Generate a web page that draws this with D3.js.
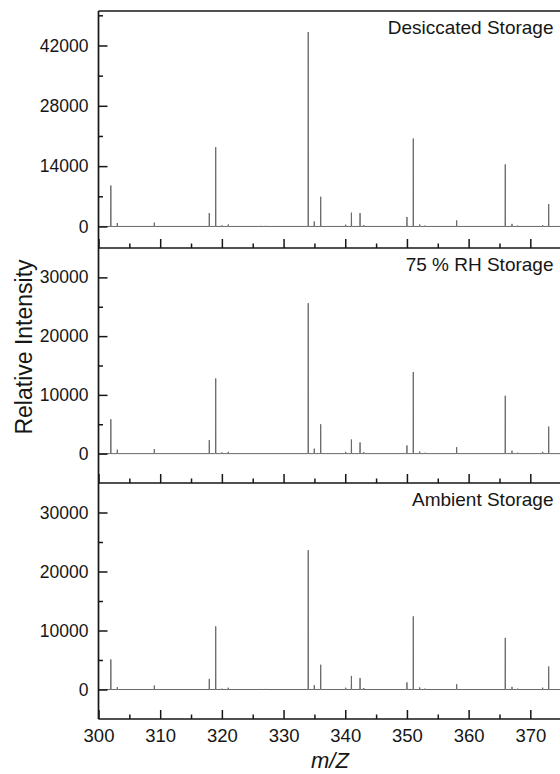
<!DOCTYPE html>
<html>
<head>
<meta charset="utf-8">
<script src="https://cdn.jsdelivr.net/npm/d3@7"></script>
<style>
  html, body { margin: 0; padding: 0; background: #fff; }
  svg { display: block; font-family: "Liberation Sans", Arial, sans-serif; }
</style>
</head>
<body>
<svg id="chart" width="560" height="774"></svg>
<script>
// Peak positions (m/z) shared by the three stored samples
const mzPeaks = [302.0, 303.05, 309.05, 317.96, 319.0, 320.0, 321.04, 326.3, 327.1,
                 334.0, 334.98, 336.02, 340.07, 341.0, 342.4, 343.0, 350.0, 351.03,
                 352.07, 352.93, 358.06, 365.94, 367.03, 367.95, 372.0, 372.98];

// Relative intensity of each peak, one array per storage condition
const desiccated = [9500, 800, 900, 3100, 18400, 250, 450, 150, 150,
                    45100, 1150, 6900, 400, 3200, 3100, 300, 2200, 20400,
                    450, 200, 1400, 14400, 600, 200, 300, 5200];
const rh75 = [5850, 680, 780, 2300, 12800, 200, 300, 100, 100,
              25600, 850, 5000, 300, 2400, 1900, 250, 1400, 13900,
              350, 150, 1100, 9850, 500, 150, 300, 4600];
const ambient = [5100, 400, 670, 1800, 10700, 150, 300, 100, 100,
                 23600, 730, 4200, 300, 2300, 1950, 250, 1200, 12400,
                 350, 150, 900, 8750, 450, 150, 300, 3900];

const panelNames = ["Desiccated Storage", "75 % RH Storage", "Ambient Storage"];
const panelSeries = [desiccated, rh75, ambient];
const yDomains = [[-5000, 50000], [-5000, 35000], [-5000, 35000]];
const yMajorTicks = [[0, 14000, 28000, 42000], [0, 10000, 20000, 30000], [0, 10000, 20000, 30000]];
const yMinorTicks = [[7000, 21000, 35000, 49000], [5000, 15000, 25000], [5000, 15000, 25000]];
const xMajorTicks = [300, 310, 320, 330, 340, 350, 360, 370];
const xMinorTicks = [305, 315, 325, 335, 345, 355, 365, 375];

const svg = d3.select("#chart");
const left = 98.5, right = 592;
const panelBounds = [[11, 248], [248, 483], [483, 719]];
const ink = "#161616";

const x = d3.scaleLinear().domain([300, 380]).range([left, right]);

panelSeries.forEach((series, i) => {
  const [top, bottom] = panelBounds[i];
  const y = d3.scaleLinear().domain(yDomains[i]).range([bottom, top]);
  const g = svg.append("g");

  // spectrum: flat baseline with a narrow spike at each peak
  const pts = [[300, 0]];
  mzPeaks.forEach((m, k) => {
    pts.push([m - 0.03, 0], [m, series[k]], [m + 0.03, 0]);
  });
  pts.push([380, 0]);
  g.append("path")
    .datum(pts)
    .attr("fill", "none")
    .attr("stroke", "#6a6a6a")
    .attr("stroke-width", 1)
    .attr("d", d3.line().x(d => x(d[0])).y(d => y(d[1])));

  // y axis: major ticks with labels, minor ticks, all pointing inward
  const yMajor = g.append("g").attr("transform", `translate(${left},0)`)
    .call(d3.axisLeft(y).tickValues(yMajorTicks[i]).tickSize(-9).tickPadding(10).tickFormat(d3.format("d")));
  const yMinor = g.append("g").attr("transform", `translate(${left},0)`)
    .call(d3.axisLeft(y).tickValues(yMinorTicks[i]).tickSize(-4.5).tickFormat(""));

  // x axis along the panel's bottom edge
  const xMajor = g.append("g").attr("transform", `translate(0,${bottom})`)
    .call(d3.axisBottom(x).tickValues(xMajorTicks).tickSize(-9).tickPadding(10)
      .tickFormat(i === 2 ? d3.format("d") : () => ""));
  const xMinor = g.append("g").attr("transform", `translate(0,${bottom})`)
    .call(d3.axisBottom(x).tickValues(xMinorTicks).tickSize(-4.5).tickFormat(""));

  [yMajor, yMinor, xMajor, xMinor].forEach(a => {
    a.select(".domain").remove();
    a.selectAll(".tick line").attr("stroke", ink).attr("stroke-width", 1.5);
    a.selectAll(".tick text").attr("fill", ink)
      .style("font-family", '"Liberation Sans", Arial, sans-serif');
  });
  yMajor.selectAll(".tick text").style("font-size", "17.5px");
  xMajor.selectAll(".tick text").style("font-size", "18.5px");

  // panel label in the upper right
  g.append("text")
    .attr("x", 553.5).attr("y", top + 23)
    .attr("text-anchor", "end")
    .attr("fill", ink)
    .style("font-size", "19px")
    .text(panelNames[i]);
});

// frame: left spine, top edge and panel dividers
const frame = svg.append("g").attr("stroke", ink).attr("stroke-width", 1.7).attr("fill", "none");
frame.append("line").attr("x1", left).attr("x2", left).attr("y1", 11).attr("y2", 719);
[11, 248, 483, 719].forEach(yy => {
  frame.append("line").attr("x1", left).attr("x2", right).attr("y1", yy).attr("y2", yy);
});

// axis titles
svg.append("text")
  .attr("x", 330).attr("y", 768)
  .attr("text-anchor", "middle")
  .attr("fill", ink)
  .style("font-size", "22px")
  .style("font-style", "italic")
  .text("m/Z");

svg.append("text")
  .attr("transform", "translate(32,347) rotate(-90)")
  .attr("text-anchor", "middle")
  .attr("fill", ink)
  .style("font-size", "23px")
  .text("Relative Intensity");
</script>
</body>
</html>
